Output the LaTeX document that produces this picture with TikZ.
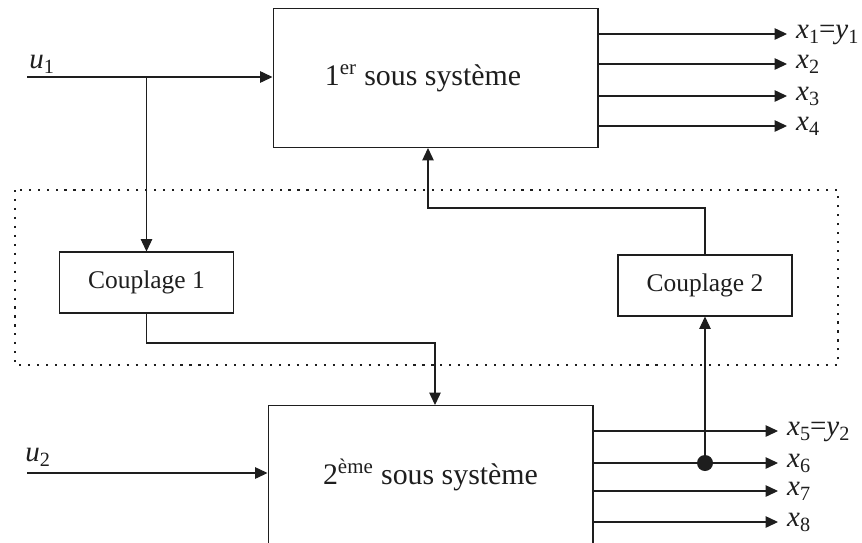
\documentclass[tikz,border=0pt]{standalone}
\usepackage{fontspec}
\setmainfont{Liberation Serif}
\usetikzlibrary{arrows.meta}
\definecolor{ink}{HTML}{1E1E1E}
\newcommand\sv[2]{\textit{#1}\raisebox{-0.4ex}{\fontsize{11.5}{12}\selectfont #2}}
\begin{document}
\begin{tikzpicture}[x=0.02cm,y=-0.02cm,
  every path/.style={color=ink},
  sysbox/.style={draw=ink, line width=0.6pt, minimum width=6.5cm, minimum height=2.78cm, inner sep=0pt, font=\fontsize{17}{20}\selectfont},
  cplbox/.style={draw=ink, line width=0.6pt, minimum width=3.48cm, minimum height=1.22cm, inner sep=0pt, font=\fontsize{14.5}{17}\selectfont},
  arr/.style={-{Triangle[length=7pt,width=6.5pt]}, line width=0.6pt, draw=ink},
  lab/.style={anchor=mid west, inner xsep=5pt, inner ysep=0pt, font=\fontsize{16.5}{18}\selectfont, text=ink},
  inlab/.style={font=\fontsize{16.5}{18}\selectfont, text=ink, inner sep=0pt}
]
\useasboundingbox (0,0) rectangle (862,542);
% frame (dotted)
\draw[line width=1pt, dash pattern=on 1.2pt off 3.9pt, draw=ink] (15,190) rectangle (838,365);

% systems
\node[sysbox] (top) at (435.5,78) {1\textsuperscript{er} sous système\hspace*{0.5cm}};
\node[sysbox] (bot) at (430.5,475) {2\textsuperscript{ème} sous système};
% couplings
\node[cplbox] (c1) at (146.5,282.5) {Couplage 1};
\node[cplbox] (c2) at (705,285.5) {Couplage 2};

% inputs
\coordinate (u1s) at (27,77);
\coordinate (u2s) at (27,473);
\node[inlab, anchor=base west] (u1l) at (29,68) {\sv{u}{1}};
\node[inlab, anchor=base west] (u2l) at (25,461) {\sv{u}{2}};
\coordinate (br) at (146.5,77);
\draw[arr] (u1s) -- (u1s -| top.west);
\draw[arr] (br) -- (c1.north);
\draw[arr] (u2s) -- (u2s -| bot.west);

% coupling 1 -> system 2
\coordinate (m1) at (435,343);
\draw[arr] (c1.south) |- (m1) -- (m1 |- bot.north);
% coupling 2 -> system 1
\coordinate (m2) at (428,208);
\draw[arr] (c2.north) |- (m2) -- (m2 |- top.south);

% outputs system 1
\node[lab] (o1) at (787,34) {\sv{x}{1}=\sv{y}{1}};
\node[lab] (o2) at (787,64) {\sv{x}{2}};
\node[lab] (o3) at (787,96) {\sv{x}{3}};
\node[lab] (o4) at (787,126) {\sv{x}{4}};
\foreach \o in {o1,o2,o3,o4} \draw[arr] (top.east |- \o.mid west) -- (\o.mid west);

% outputs system 2
\node[lab] (o5) at (778,431) {\sv{x}{5}=\sv{y}{2}};
\node[lab] (o6) at (778,463) {\sv{x}{6}};
\node[lab] (o7) at (778,491) {\sv{x}{7}};
\node[lab] (o8) at (778,522) {\sv{x}{8}};
\foreach \o in {o5,o6,o7,o8} \draw[arr] (bot.east |- \o.mid west) -- (\o.mid west);

% branch point to coupling 2
\coordinate (dot) at (c2.south |- o6.mid west);
\fill[ink] (dot) circle[radius=8];
\draw[arr] (dot) -- (c2.south);
\end{tikzpicture}
\end{document}
